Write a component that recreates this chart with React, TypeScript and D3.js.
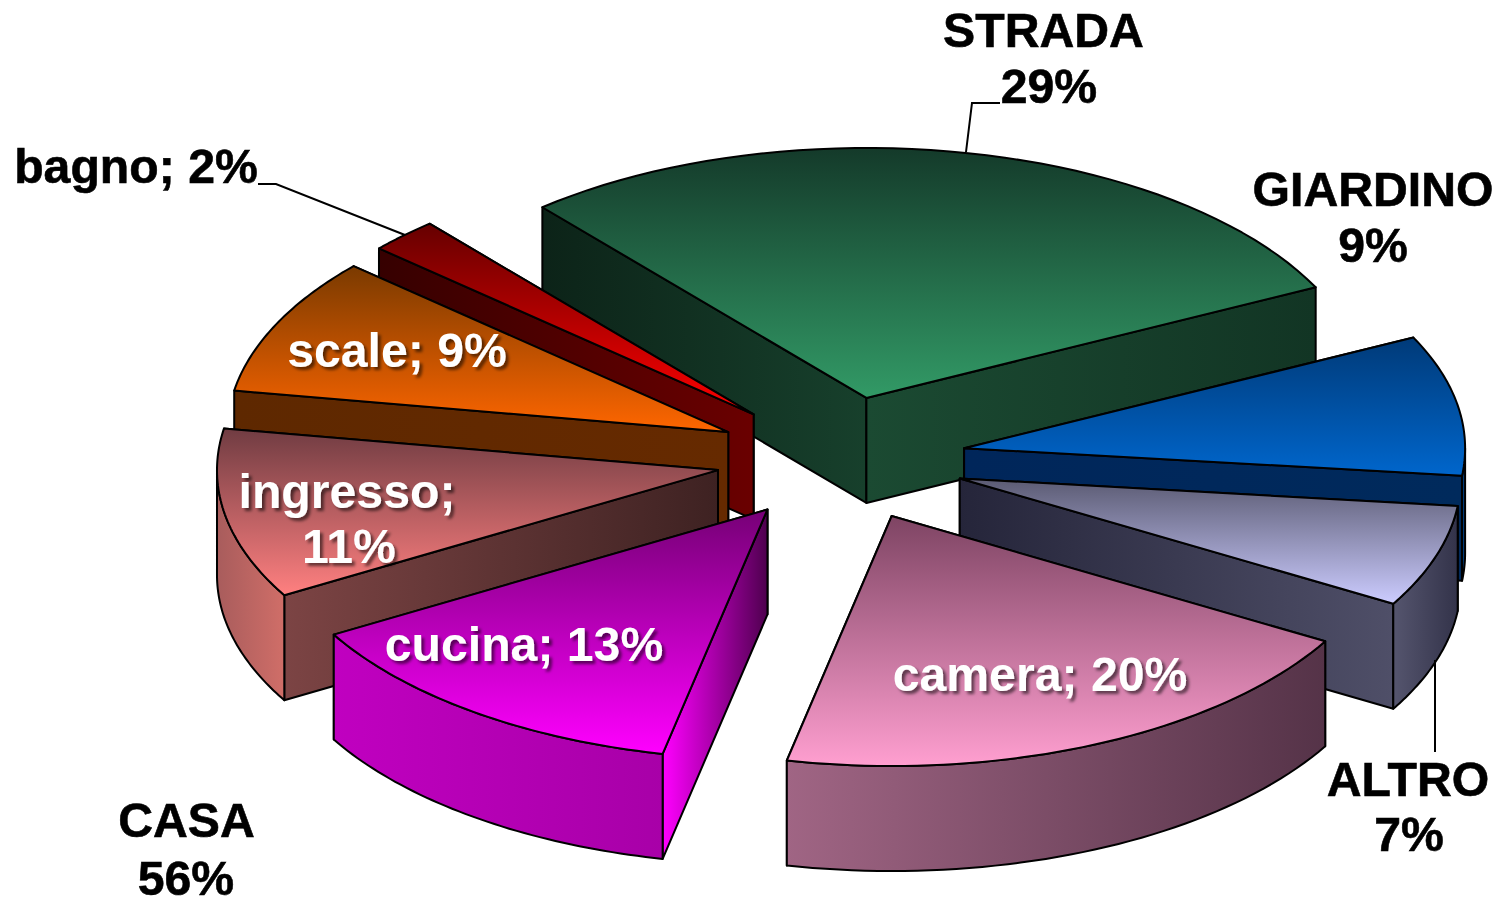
import React from "react";
import * as d3 from "d3";

// ---- data ----
const categories = ["STRADA", "GIARDINO", "ALTRO", "camera", "cucina", "ingresso", "scale", "bagno"];
const shares = [28.9, 9.05, 6.6, 20, 13.3, 11, 8.9, 2.25];
const paintOrder = ["STRADA", "bagno", "scale", "ingresso", "cucina", "GIARDINO", "ALTRO", "camera"];

// ---- styles (top gradient, radial walls, outer wall) ----
type Style = { top: [string, string]; start: [string, string]; end: [string, string]; outer: [string, string] };
const styles: Record<string, Style> = {
  STRADA: { top: ["#143a2a", "#329a66"], start: ["#0c2318", "#17402c"], end: ["#1b4a32", "#123524"], outer: ["#0c2318", "#123524"] },
  GIARDINO: { top: ["#003a78", "#0066cc"], start: ["#00285a", "#00285a"], end: ["#00265a", "#002a5c"], outer: ["#004488", "#003a78"] },
  ALTRO: { top: ["#5a5a72", "#ccccff"], start: ["#25253a", "#25253a"], end: ["#25253a", "#4f4f68"], outer: ["#55556e", "#33334a"] },
  camera: { top: ["#7e4463", "#ff9fd0"], start: ["#553348", "#553348"], end: ["#553348", "#553348"], outer: ["#a06584", "#553348"] },
  cucina: { top: ["#760076", "#ff00ff"], start: ["#ff00ff", "#4e004e"], end: ["#4e004e", "#4e004e"], outer: ["#c000c0", "#a800a8"] },
  ingresso: { top: ["#703c42", "#ff8080"], start: ["#7c4444", "#3e2222"], end: ["#3e2222", "#3e2222"], outer: ["#a85c5c", "#d06e68"] },
  scale: { top: ["#7a3a00", "#ff6600"], start: ["#5e2800", "#662a00"], end: ["#5e2800", "#5e2800"], outer: ["#5e2800", "#5e2800"] },
  bagno: { top: ["#660000", "#ff0000"], start: ["#360000", "#6a0000"], end: ["#360000", "#360000"], outer: ["#360000", "#360000"] },
};

const blackLabels = [
  { lines: ["STRADA", "29%"], xs: [1043.5, 1049], ys: [47, 103] },
  { lines: ["GIARDINO", "9%"], xs: [1373, 1373], ys: [206, 262] },
  { lines: ["ALTRO", "7%"], xs: [1408, 1409], ys: [796, 851] },
  { lines: ["CASA", "56%"], xs: [186.5, 186], ys: [837, 895] },
  { lines: ["bagno; 2%"], xs: [136], ys: [183] },
];
const whiteLabels = [
  { lines: ["scale; 9%"], xs: [397], ys: [367] },
  { lines: ["ingresso;", "11%"], xs: [347, 349], ys: [508, 563] },
  { lines: ["cucina; 13%"], xs: [524], ys: [661] },
  { lines: ["camera; 20%"], xs: [1040], ys: [691] },
];
const leaders = [
  [[258, 184], [276, 184], [405, 235]],
  [[1000, 103], [972, 103], [966, 152]],
  [[1435, 660], [1435, 752]],
];

// ---- layout ----
const W = 1501, H = 899;
const cx = 841, cy = 459, rx = 501, ry = 250, explode = 125, depth = 105;
const startDeg = -40.3;
const rad = (d: number) => (d * Math.PI) / 180;
const FONT = "'Liberation Sans', Arial, sans-serif";
const line = d3.line<number[]>().x((p) => p[0]).y((p) => p[1]);

const pie = d3
  .pie<number>()
  .sort(null)
  .startAngle(rad(startDeg))
  .endAngle(rad(startDeg + 360));
const arcs = pie(shares);

type Wall = { key: string; d: string; my: number; colors: [string, string] };

function sliceGeometry(i: number) {
  const a = arcs[i];
  const mid = (a.startAngle + a.endAngle) / 2;
  const ax = cx + explode * Math.sin(mid);
  const ay = cy - (explode * Math.cos(mid) * (ry / rx));
  const n = 48;
  const at = (t: number) => [ax + rx * Math.sin(t), ay - ry * Math.cos(t)];
  const sample = (t0: number, t1: number) => {
    const angle = d3.scaleLinear().domain([0, n]).range([t0, t1]);
    return d3.range(n + 1).map((j) => at(angle(j)));
  };
  const rim = sample(a.startAngle, a.endAngle);
  const s = styles[categories[i]];
  const down = (p: number[]) => [p[0], p[1] + depth];
  const apex = [ax, ay];
  const first = rim[0], last = rim[n];
  const walls: Wall[] = [
    { key: "start", d: line([apex, first, down(first), down(apex)])! + "Z", my: (ay + first[1]) / 2, colors: s.start },
    { key: "end", d: line([apex, last, down(last), down(apex)])! + "Z", my: (ay + last[1]) / 2, colors: s.end },
  ];
  // only the front half of the rim has a visible outer wall
  const f0 = Math.max(a.startAngle, rad(90));
  const f1 = Math.min(a.endAngle, rad(270));
  if (f1 > f0) {
    const front = sample(f0, f1);
    walls.push({
      key: "outer",
      d: line([...front, ...front.slice().reverse().map(down)])! + "Z",
      my: d3.mean(front, (p) => p[1])!,
      colors: s.outer,
    });
  }
  walls.sort((p, q) => p.my - q.my);
  const top = line([apex, ...rim])! + "Z";
  return { walls, top, style: s };
}

export default function App() {
  const order = paintOrder.map((c) => categories.indexOf(c));
  const geos = categories.map((_, i) => sliceGeometry(i));
  return (
    <svg
      width={W}
      height={H}
      viewBox={`0 0 ${W} ${H}`}
      style={{ position: "absolute", left: 0, top: 0, display: "block", background: "#fff" }}
    >
      <defs>
        <filter id="soft" x="-5%" y="-20%" width="110%" height="140%">
          <feGaussianBlur stdDeviation="0.6" />
        </filter>
        <filter id="shadow" x="-5%" y="-20%" width="115%" height="150%">
          <feGaussianBlur in="SourceGraphic" stdDeviation="0.6" result="t" />
          <feDropShadow in="t" dx="3" dy="3" stdDeviation="1.6" floodColor="#000" floodOpacity="0.55" />
        </filter>
        {geos.map((g, i) => (
          <React.Fragment key={i}>
            <linearGradient id={`top${i}`} x1="0" y1="0" x2="0" y2="1">
              <stop offset="0" stopColor={g.style.top[0]} />
              <stop offset="1" stopColor={g.style.top[1]} />
            </linearGradient>
            {g.walls.map((w) => (
              <linearGradient key={w.key} id={`${w.key}${i}`} x1="0" y1="0" x2="1" y2="0">
                <stop offset="0" stopColor={w.colors[0]} />
                <stop offset="1" stopColor={w.colors[1]} />
              </linearGradient>
            ))}
          </React.Fragment>
        ))}
      </defs>

      {order.map((i) => (
        <g key={categories[i]} stroke="#000" strokeWidth={2} strokeLinejoin="round">
          {geos[i].walls.map((w) => (
            <path key={w.key} d={w.d} fill={`url(#${w.key}${i})`} />
          ))}
          <path d={geos[i].top} fill={`url(#top${i})`} />
        </g>
      ))}

      {leaders.map((l, i) => (
        <path key={i} d={line(l as number[][])!} fill="none" stroke="#000" strokeWidth={2} />
      ))}

      <g fontFamily={FONT} fontWeight="bold" fontSize={48.2} textAnchor="middle">
        {blackLabels.map((l) =>
          l.lines.map((t, j) => (
            <text key={t} x={l.xs[j]} y={l.ys[j]} fill="#000" stroke="#000" strokeWidth={0.6} filter="url(#soft)">
              {t}
            </text>
          ))
        )}
        {whiteLabels.map((l) =>
          l.lines.map((t, j) => (
            <text key={t} x={l.xs[j]} y={l.ys[j]} fill="#fff" filter="url(#shadow)">
              {t}
            </text>
          ))
        )}
      </g>
    </svg>
  );
}
